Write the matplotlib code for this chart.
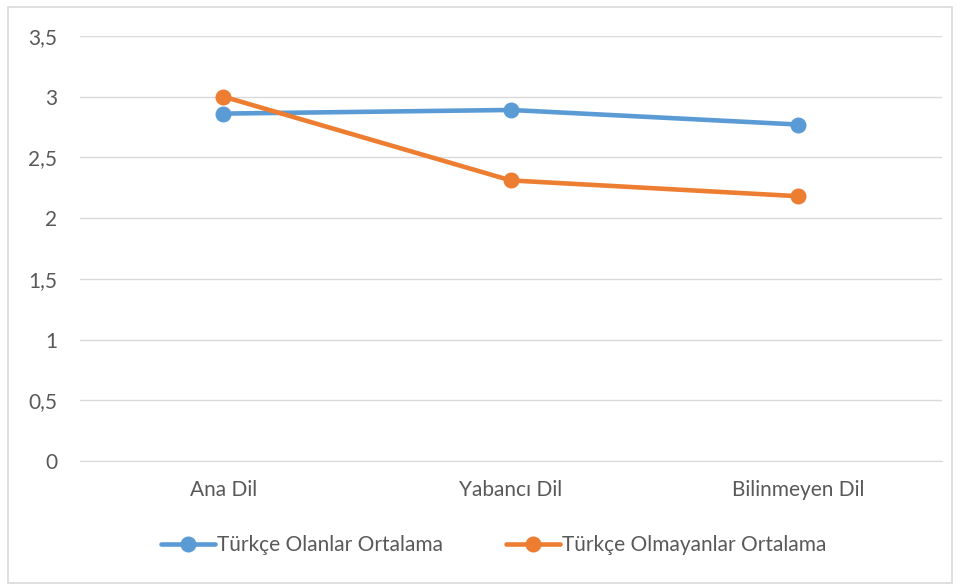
import matplotlib.pyplot as plt
from matplotlib.patches import Rectangle
from matplotlib.ticker import FuncFormatter

categories = ['Ana Dil', 'Yabancı Dil', 'Bilinmeyen Dil']
turkce_olanlar = [2.86, 2.89, 2.77]
turkce_olmayanlar = [3.0, 2.31, 2.18]

plt.rcParams['font.family'] = ['Lato', 'DejaVu Sans']
text_color = '#595959'
fs = 15

fig = plt.figure(figsize=(9.6, 5.88), dpi=100)
ax = fig.add_axes([0.083, 0.216, 0.898, 0.723])

x = range(len(categories))
ax.plot(x, turkce_olanlar, color='#5B9BD5', lw=3.3, marker='o', ms=10.5,
        label='Türkçe Olanlar Ortalama', solid_capstyle='round')
ax.plot(x, turkce_olmayanlar, color='#ED7D31', lw=3.3, marker='o', ms=10.5,
        label='Türkçe Olmayanlar Ortalama', solid_capstyle='round')

ax.set_xlim(-0.5, 2.5)
ax.set_ylim(0, 3.5)
ax.set_yticks([0, 0.5, 1, 1.5, 2, 2.5, 3, 3.5])
ax.yaxis.set_major_formatter(FuncFormatter(lambda v, p: ('%g' % v).replace('.', ',')))
ax.set_xticks(list(x))
ax.set_xticklabels(categories)
ax.grid(axis='y', color='#d9d9d9', lw=1)
ax.set_axisbelow(True)
for s in ['top', 'right', 'left']:
    ax.spines[s].set_visible(False)
ax.spines['bottom'].set_color('#d9d9d9')
ax.tick_params(axis='both', length=0, labelsize=fs, colors=text_color)
ax.tick_params(axis='y', pad=16)
ax.tick_params(axis='x', pad=14)

leg = fig.legend(loc='center', bbox_to_anchor=(0.514, 0.073), ncol=2, frameon=False,
                 fontsize=fs, handlelength=2.6, columnspacing=3, handletextpad=0.1)
for t in leg.get_texts():
    t.set_color(text_color)

fig.patches.append(Rectangle((8 / 960, 5 / 588), 944 / 960, 576 / 588,
                             transform=fig.transFigure, fill=False,
                             edgecolor='#d9d9d9', lw=1.2))

fig.savefig('out.png', dpi=100)
